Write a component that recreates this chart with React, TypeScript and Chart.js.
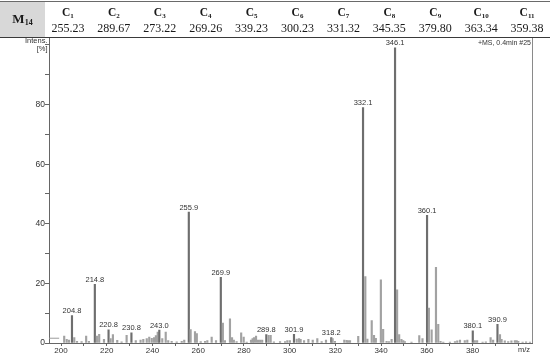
import React, { useEffect, useRef } from 'react';
import { Chart, registerables } from 'chart.js';

Chart.register(...registerables);

// m/z of each peak
const mz = [
  201.4, 202.5, 203.5, 204.8, 205.8, 207.0, 209.0, 211.0, 212.2, 214.8,
  215.7, 216.7, 218.8, 220.8, 221.7, 222.7, 224.6, 226.5, 228.7, 230.8,
  232.7, 234.8, 236.0, 237.5, 238.6, 239.7, 240.7, 241.5, 242.3, 243.0,
  244.3, 245.8, 246.9, 248.4, 250.6, 252.8, 253.9, 255.9, 256.7, 258.6,
  259.4, 261.1, 263.0, 264.0, 265.9, 267.8, 269.9, 270.8, 271.7, 273.9,
  274.8, 275.6, 276.8, 278.8, 279.9, 281.2, 283.1, 283.8, 284.4, 285.3,
  286.2, 287.1, 288.0, 289.8, 290.8, 291.7, 293.1, 295.8, 298.0, 299.0,
  300.1, 301.9, 303.1, 304.1, 304.8, 306.3, 308.2, 310.1, 312.1, 314.0,
  315.9, 318.2, 318.8, 319.8, 323.9, 324.9, 325.6, 326.4, 330.0, 332.1,
  333.1, 334.0, 335.9, 336.9, 337.7, 339.9, 340.9, 342.4, 343.4, 344.6,
  346.1, 347.0, 347.9, 348.9, 349.7, 350.4, 353.3, 356.7, 358.1, 360.1,
  360.9, 362.1, 364.0, 365.0, 366.0, 367.2, 370.1, 372.3, 373.3, 374.5,
  376.6, 377.7, 380.1, 381.0, 382.0, 384.4, 385.8, 387.9, 389.0, 390.9,
  392.0, 392.7, 394.1, 395.6, 397.0, 398.5, 399.3, 400.0, 401.9, 403.4,
  405.1,
];

// relative intensity [%] of each peak
const intensity = [
  2.3, 1.2, 1.0, 9.2, 1.8, 0.6, 0.5, 2.3, 0.6, 19.7,
  2.3, 2.9, 1.2, 4.4, 1.5, 2.8, 0.9, 0.4, 2.6, 3.4,
  0.8, 1.0, 1.2, 1.5, 2.0, 1.6, 1.8, 2.5, 3.7, 4.3,
  1.5, 3.7, 0.8, 0.6, 0.4, 0.6, 1.0, 43.9, 4.5, 3.8,
  3.2, 0.5, 0.6, 0.8, 2.0, 0.8, 22.0, 6.7, 0.8, 8.1,
  1.8, 1.0, 0.5, 3.4, 2.0, 0.3, 1.0, 1.5, 1.8, 2.3,
  1.0, 1.0, 1.0, 2.8, 2.6, 2.6, 0.4, 0.5, 0.5, 0.8,
  0.8, 2.9, 1.3, 1.5, 1.2, 0.8, 1.2, 1.0, 1.5, 0.5,
  1.0, 1.8, 1.5, 0.6, 1.0, 0.9, 0.8, 0.8, 2.2, 79.0,
  22.3, 1.3, 7.5, 2.6, 1.6, 21.2, 4.6, 0.6, 0.5, 1.2,
  99.0, 17.8, 2.8, 1.2, 0.8, 0.5, 0.3, 2.5, 1.5, 42.8,
  11.7, 4.4, 25.4, 6.3, 0.6, 0.3, 0.3, 0.5, 0.7, 1.0,
  0.8, 1.0, 4.1, 0.8, 0.8, 0.3, 0.4, 1.8, 1.0, 6.3,
  2.8, 1.2, 0.7, 0.5, 0.7, 0.8, 0.8, 0.6, 0.3, 0.4,
  0.3,
];

// peaks that carry an m/z annotation
const labeledPeaks = [
  204.8, 214.8, 220.8, 230.8, 243.0, 255.9, 269.9, 289.8, 301.9, 318.2,
  332.1, 346.1, 360.1, 380.1, 390.9,
];

// short low-level trace at the start of the scan
const traceMz = [194.8, 199.2];
const traceIntensity = [1.6, 1.6];

const compoundIds = ['1', '2', '3', '4', '5', '6', '7', '8', '9', '10', '11'];
const compoundValues = [
  '255.23', '289.67', '273.22', '269.26', '339.23', '300.23',
  '331.32', '345.35', '379.80', '363.34', '359.38',
];

const sans = '"Liberation Sans", Arial, sans-serif';
const serif = '"Liberation Serif", "Times New Roman", serif';

const annotatePlugin = {
  id: 'annotate',
  afterDatasetsDraw(chart: any) {
    const { ctx, chartArea, scales } = chart;
    const xs = scales.x;
    const ys = scales.y;
    ctx.save();
    // right frame
    ctx.strokeStyle = '#8a8a8a';
    ctx.lineWidth = 1;
    const rx = Math.round(chartArea.right) + 0.5;
    ctx.beginPath();
    ctx.moveTo(rx, chartArea.top);
    ctx.lineTo(rx, chartArea.bottom);
    ctx.stroke();

    ctx.fillStyle = '#333';
    ctx.font = `7.5px ${sans}`;
    ctx.textAlign = 'center';
    ctx.textBaseline = 'middle';
    labeledPeaks.forEach((p) => {
      const i = mz.indexOf(p);
      if (i < 0) return;
      const px = xs.getPixelForValue(p);
      const py = ys.getPixelForValue(intensity[i]);
      ctx.fillText(p.toFixed(1), px, py - 4.5);
    });

    ctx.textAlign = 'right';
    ctx.font = `7px ${sans}`;
    ctx.fillText('+MS, 0.4min #25', chartArea.right - 1, chartArea.top + 6);
    ctx.font = `7.5px ${sans}`;
    ctx.fillText('Intens.', chartArea.left - 1.5, chartArea.top + 3.2);
    ctx.fillText('[%]', chartArea.left - 1.5, chartArea.top + 11.8);

    ctx.textAlign = 'center';
    ctx.fillText('m/z', chartArea.right - 8, chartArea.bottom + 6.5);
    ctx.restore();
  },
};

function MassSpectrum() {
  const ref = useRef<HTMLCanvasElement | null>(null);
  useEffect(() => {
    if (!ref.current) return;
    const colors = mz.map((m) => (labeledPeaks.includes(m) ? '#6e6e6e' : '#a2a2a2'));
    const chart = new Chart(ref.current, {
      type: 'bar',
      data: {
        datasets: [
          {
            type: 'bar',
            data: mz.map((m, i) => ({ x: m, y: intensity[i] })),
            backgroundColor: colors,
            borderWidth: 0,
            barThickness: 1.5,
            grouped: false,
          } as any,
          {
            type: 'line',
            data: traceMz.map((m, i) => ({ x: m, y: traceIntensity[i] })),
            borderColor: '#9c9c9c',
            borderWidth: 1,
            pointRadius: 0,
            fill: false,
          } as any,
        ],
      },
      plugins: [annotatePlugin],
      options: {
        responsive: false,
        maintainAspectRatio: false,
        animation: false,
        events: [],
        devicePixelRatio: 1,
        layout: { padding: { left: 0, right: 18, top: 37.5, bottom: 0 } },
        plugins: {
          legend: { display: false },
          tooltip: { enabled: false },
          title: { display: false },
        },
        scales: {
          x: {
            type: 'linear',
            min: 194.75,
            max: 406,
            offset: false,
            grid: {
              offset: false,
              drawOnChartArea: false,
              drawTicks: true,
              tickLength: 3,
              color: '#666',
            },
            border: { display: true, color: '#666', width: 1 },
            ticks: {
              stepSize: 10,
              includeBounds: false,
              autoSkip: false,
              maxRotation: 0,
              minRotation: 0,
              padding: 0,
              color: '#333',
              font: { size: 8, family: sans },
              callback: (v: any) => {
                const n = Math.round(Number(v));
                if (n >= 400) return '';
                return n % 20 === 0 ? String(n) : '';
              },
            },
            afterFit: (scale: any) => {
              scale.height = 11;
            },
          },
          y: {
            type: 'linear',
            min: 0,
            max: 102.5,
            grid: {
              drawOnChartArea: false,
              drawTicks: true,
              tickLength: 4,
              color: '#666',
            },
            border: { display: true, color: '#666', width: 1 },
            ticks: {
              stepSize: 10,
              includeBounds: false,
              autoSkip: false,
              padding: 0,
              color: '#333',
              font: { size: 8.5, family: sans },
              callback: (v: any) => {
                const n = Math.round(Number(v));
                return n % 20 === 0 && n < 100 ? String(n) : '';
              },
            },
            afterFit: (scale: any) => {
              scale.width = 49;
            },
          },
        },
      } as any,
    });
    return () => chart.destroy();
  }, []);
  return <canvas ref={ref} width={550} height={354} style={{ width: 550, height: 354, display: 'block' }} />;
}

function HeaderTable() {
  const colW = (550 - 45) / compoundIds.length;
  return (
    <div
      style={{
        position: 'absolute',
        left: 0,
        top: 0,
        width: 550,
        height: 38,
        fontFamily: serif,
        color: '#1a1a1a',
        zIndex: 2,
      }}
    >
      <div style={{ position: 'absolute', left: 0, top: 1, width: 550, height: 1, background: '#6a6a6a' }} />
      <div
        style={{
          position: 'absolute',
          left: 0,
          top: 2,
          width: 45,
          height: 34.5,
          background: '#d8d8d8',
        }}
      />
      <div
        style={{
          position: 'absolute',
          left: 0,
          top: 11,
          width: 45,
          textAlign: 'center',
          fontWeight: 'bold',
          fontSize: 13,
          lineHeight: '16px',
        }}
      >
        M<sub style={{ fontSize: 8, verticalAlign: 'baseline', position: 'relative', top: 2 }}>14</sub>
      </div>
      {compoundIds.map((id, i) => (
        <div
          key={id}
          style={{
            position: 'absolute',
            left: 45 + i * colW,
            top: 4.5,
            width: colW,
            textAlign: 'center',
            fontWeight: 'bold',
            fontSize: 11.5,
            lineHeight: '14px',
          }}
        >
          C<sub style={{ fontSize: 7, verticalAlign: 'baseline', position: 'relative', top: 2 }}>{id}</sub>
        </div>
      ))}
      {compoundValues.map((v, i) => (
        <div
          key={'v' + i}
          style={{
            position: 'absolute',
            left: 45 + i * colW,
            top: 21,
            width: colW,
            textAlign: 'center',
            fontSize: 12,
            lineHeight: '14px',
          }}
        >
          {v}
        </div>
      ))}
      <div style={{ position: 'absolute', left: 0, top: 36.5, width: 550, height: 1.5, background: '#3a3a3a' }} />
    </div>
  );
}

export default function App() {
  return (
    <div
      style={{
        position: 'fixed',
        left: 0,
        top: 0,
        width: 550,
        height: 354,
        background: '#fff',
        overflow: 'hidden',
      }}
    >
      <div style={{ position: 'absolute', left: 0, top: 0 }}>
        <MassSpectrum />
      </div>
      <HeaderTable />
    </div>
  );
}
